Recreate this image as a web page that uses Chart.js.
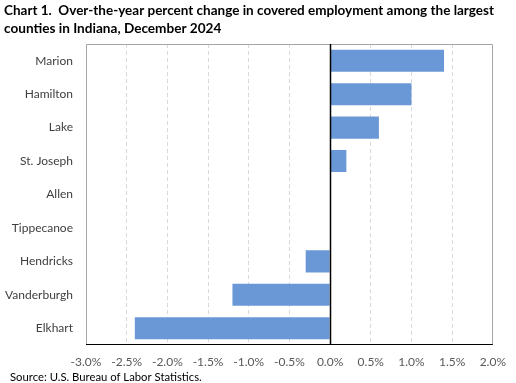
<!DOCTYPE html>
<html>
<head>
<meta charset="utf-8">
<script src="https://cdn.jsdelivr.net/npm/chart.js@4.4.1/dist/chart.umd.min.js"></script>
<style>
  html, body { margin: 0; padding: 0; background: #ffffff; }
  #wrap { width: 516px; height: 383px; position: relative; }
</style>
</head>
<body>
<div id="wrap"><canvas id="c" width="516" height="383"></canvas></div>
<script>
const counties = ["Marion", "Hamilton", "Lake", "St. Joseph", "Allen", "Tippecanoe", "Hendricks", "Vanderburgh", "Elkhart"];
const pctChange = [1.4, 1.0, 0.6, 0.2, 0.0, 0.0, -0.3, -1.2, -2.4];
const titleLines = ["Chart 1.  Over-the-year percent change in covered employment among the largest", "counties in Indiana, December 2024"];
const sourceText = "Source: U.S. Bureau of Labor Statistics.";
const xMin = -3.0, xMax = 2.0, xStep = 0.5;

const FONT = "Lato, 'Open Sans', sans-serif";

const framePlugin = {
  id: 'frame',
  afterDatasetsDraw(chart) {
    const { ctx, chartArea: a, scales } = chart;
    ctx.save();
    ctx.lineWidth = 1;
    ctx.strokeStyle = '#a6a6a6';
    ctx.beginPath();
    ctx.moveTo(Math.round(a.left) + 0.5, Math.round(a.bottom));
    ctx.lineTo(Math.round(a.left) + 0.5, Math.round(a.top) + 0.5);
    ctx.lineTo(Math.round(a.right) - 0.5, Math.round(a.top) + 0.5);
    ctx.lineTo(Math.round(a.right) - 0.5, Math.round(a.bottom));
    ctx.stroke();
    ctx.strokeStyle = '#000000';
    ctx.beginPath();
    ctx.moveTo(a.left, Math.round(a.bottom) - 0.5);
    ctx.lineTo(a.right, Math.round(a.bottom) - 0.5);
    ctx.stroke();
    const x0 = Math.round(scales.x.getPixelForValue(0)) + 0.5;
    ctx.lineWidth = 1.5;
    ctx.beginPath();
    ctx.moveTo(x0, a.top);
    ctx.lineTo(x0, a.bottom);
    ctx.stroke();
    ctx.restore();
  },
  afterDraw(chart) {
    const { ctx } = chart;
    ctx.save();
    ctx.fillStyle = '#000000';
    ctx.font = "11.3px " + FONT;
    ctx.textBaseline = 'middle';
    ctx.textAlign = 'left';
    ctx.fillText(sourceText, 10, 377);
    ctx.restore();
  }
};

new Chart(document.getElementById('c'), {
  type: 'bar',
  data: {
    labels: counties,
    datasets: [{
      data: pctChange,
      backgroundColor: '#6a98d6',
      borderWidth: 0,
      categoryPercentage: 1.0,
      barPercentage: 0.66
    }]
  },
  options: {
    indexAxis: 'y',
    responsive: false,
    animation: false,
    devicePixelRatio: 1,
    layout: { padding: { left: 4, right: 22, top: 0, bottom: 0 } },
    plugins: {
      legend: { display: false },
      tooltip: { enabled: false },
      title: {
        display: true,
        text: titleLines,
        align: 'start',
        color: '#000000',
        font: { family: FONT, size: 13.6, weight: 'bold', lineHeight: 18 / 13.6 },
        padding: { top: 2, bottom: 6 }
      }
    },
    scales: {
      x: {
        type: 'linear',
        min: xMin,
        max: xMax,
        afterBuildTicks(scale) {
          const t = [];
          for (let i = 0; i <= Math.round((xMax - xMin) / xStep); i++) t.push({ value: +(xMin + i * xStep).toFixed(1) });
          scale.ticks = t;
        },
        afterFit(scale) { scale.height = 38; },
        grid: {
          drawTicks: false,
          color: (c) => (c.tick && (c.tick.value === xMin || c.tick.value === xMax || c.tick.value === 0)) ? 'rgba(0,0,0,0)' : '#d9d9d9',
          lineWidth: 1
        },
        border: { display: false, dash: [4, 3] },
        ticks: {
          padding: 10,
          color: '#595959',
          font: { family: FONT, size: 12 },
          callback: (v) => Number(v).toFixed(1) + '%',
          maxRotation: 0
        }
      },
      y: {
        afterFit(scale) { scale.width = 82; },
        grid: { display: false, drawTicks: false },
        border: { display: false },
        ticks: {
          padding: 13,
          color: '#404040',
          font: { family: FONT, size: 12 }
        }
      }
    }
  },
  plugins: [framePlugin]
});
</script>
</body>
</html>
